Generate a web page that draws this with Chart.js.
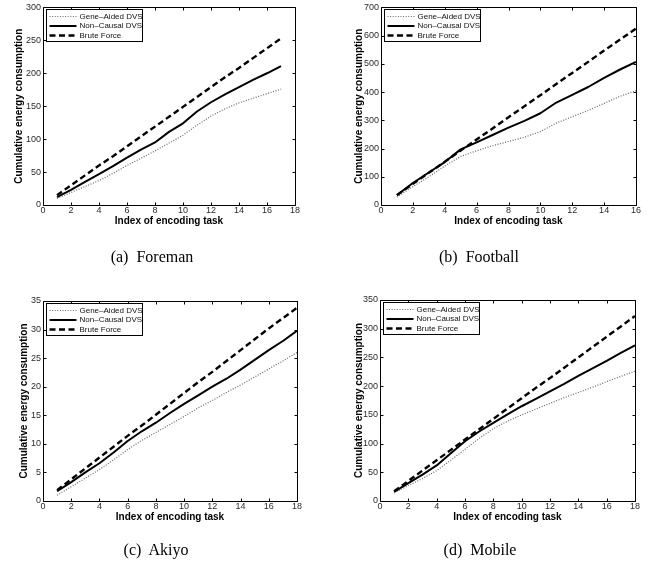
<!DOCTYPE html>
<html><head><meta charset="utf-8">
<script src="https://cdn.jsdelivr.net/npm/chart.js@4.4.1/dist/chart.umd.min.js"></script>
<style>
html,body{margin:0;padding:0;background:#fff;}
#wrap{position:relative;width:656px;height:572px;overflow:hidden;background:#fff;}
canvas{position:absolute;left:0;top:0;}
.cap{position:absolute;font-family:"Liberation Serif","DejaVu Serif",serif;font-size:16px;color:#000;white-space:pre;transform:translate(-50%,-50%);}
</style></head><body>
<div id="wrap">
<canvas id="ca" width="656" height="572"></canvas>
<canvas id="cb" width="656" height="572"></canvas>
<canvas id="cc" width="656" height="572"></canvas>
<canvas id="cd" width="656" height="572"></canvas>
<div class="cap" style="left:152px;top:257px">(a)  Foreman</div>
<div class="cap" style="left:479px;top:257px">(b)  Football</div>
<div class="cap" style="left:156px;top:550px">(c)  Akiyo</div>
<div class="cap" style="left:480px;top:550px">(d)  Mobile</div>
</div>
<script>
// ---- data ----
const seriesLabels = ["Gene\u2013Aided DVS", "Non\u2013Causal DVS", "Brute Force"];
const xTitle = "Index of encoding task";
const yTitle = "Cumulative energy consumption";

const foremanTasks = [1,2,3,4,5,6,7,8,9,10,11,12,13,14,15,16,17];
const foremanGene  = [10,19,28,37,48,60,71,82,94,106,121,135,146,155,162,169,176];
const foremanNonC  = [12,23,35,47,59,72,84,95,111,124,142,156,168,179,190,200,211];
const foremanBrute = [15,30,45,60,74,89,104,119,134,149,164,179,194,208,223,238,253];

const footballTasks = [1,2,3,4,5,6,7,8,9,10,11,12,13,14,15,16];
const footballGene  = [28,65,100,138,172,192,210,225,240,260,290,313,335,360,385,405];
const footballNonC  = [35,78,115,152,197,222,248,274,298,325,363,390,418,450,480,507];
const footballBrute = [35,75,114,153,193,232,271,311,350,389,429,468,507,547,586,625];

const akiyoTasks = [1,2,3,4,5,6,7,8,9,10,11,12,13,14,15,16,17,18];
const akiyoGene  = [1.0,2.5,4.0,5.5,7.2,9.0,10.6,12.0,13.4,14.8,16.3,17.6,19.0,20.3,21.7,23.1,24.5,26.0];
const akiyoNonC  = [1.7,3.3,5.0,6.6,8.5,10.5,12.2,13.7,15.4,17.0,18.5,20.0,21.4,23.0,24.7,26.4,28.0,29.8];
const akiyoBrute = [1.9,3.8,5.7,7.6,9.5,11.4,13.2,15.1,17.0,18.9,20.8,22.6,24.5,26.4,28.3,30.2,32.0,33.8];

const mobileTasks = [1,2,3,4,5,6,7,8,9,10,11,12,13,14,15,16,17,18];
const mobileGene  = [14,27,39,53,71,90,109,126,139,150,160,170,180,189,198,208,217,226];
const mobileNonC  = [16,31,46,62,83,104,121,136,151,165,178,191,204,218,231,244,258,271];
const mobileBrute = [17,35,53,71,89,107,125,143,161,179,197,214,232,250,268,286,304,322];

const xTicksA = {max:18, step:2};
const xTicksB = {max:16, step:2};
const yTicksA = {max:300, step:50};
const yTicksB = {max:700, step:100};
const yTicksC = {max:35, step:5};
const yTicksD = {max:350, step:50};

// ---- styling ----
const SANS = '"Liberation Sans", Arial, Helvetica, sans-serif';
const styles = [
  {borderColor:'#666', borderWidth:1.2, borderDash:[1,1.6]},
  {borderColor:'#000', borderWidth:2, borderDash:[]},
  {borderColor:'#000', borderWidth:2.4, borderDash:[6,3.5]}
];

function pts(xs, ys){ return xs.map((x,i)=>({x:x, y:ys[i]})); }

const framePlugin = {
  id:'frame',
  afterDatasetsDraw(chart){
    const ctx = chart.ctx, a = chart.chartArea;
    const xs = chart.scales.x, ys = chart.scales.y;
    ctx.save();
    ctx.strokeStyle = '#000'; ctx.lineWidth = 1; ctx.setLineDash([]);
    ctx.beginPath();
    const L = Math.round(a.left)+0.5, R = Math.round(a.right)+0.5, T = Math.round(a.top)+0.5, B = Math.round(a.bottom)+0.5;
    ctx.rect(L, T, R-L, B-T);
    const tl = 3;
    xs.ticks.forEach(t=>{
      const p = Math.round(xs.getPixelForValue(t.value))+0.5;
      ctx.moveTo(p,B); ctx.lineTo(p,B-tl);
      ctx.moveTo(p,T); ctx.lineTo(p,T+tl);
    });
    ys.ticks.forEach(t=>{
      const p = Math.round(ys.getPixelForValue(t.value))+0.5;
      ctx.moveTo(L,p); ctx.lineTo(L+tl,p);
      ctx.moveTo(R,p); ctx.lineTo(R-tl,p);
    });
    ctx.stroke();
    // legend box
    const bx = Math.round(a.left+3)+0.5, by = Math.round(a.top+2)+0.5, bw = 96, bh = 32;
    ctx.fillStyle = '#fff';
    ctx.fillRect(bx, by, bw, bh);
    ctx.strokeRect(bx, by, bw, bh);
    ctx.font = '8px ' + SANS;
    ctx.textBaseline = 'middle';
    ctx.textAlign = 'left';
    chart.data.datasets.forEach((ds,i)=>{
      const y = by + 7 + i*9.5;
      ctx.save();
      ctx.strokeStyle = ds.borderColor; ctx.lineWidth = ds.borderWidth;
      ctx.setLineDash(ds.borderDash || []);
      ctx.beginPath(); ctx.moveTo(bx+3, y); ctx.lineTo(bx+30, y); ctx.stroke();
      ctx.restore();
      ctx.fillStyle = '#111';
      ctx.fillText(ds.label, bx+33, y);
    });
    ctx.restore();
  }
};

function makeChart(id, rect, tasks, gene, nonc, brute, xt, yt, yAxisW){
  const H = 24;
  const cfg = {
    type:'line',
    data:{ datasets:[gene, nonc, brute].map((ys,i)=>Object.assign({
      label: seriesLabels[i], data: pts(tasks, ys), pointRadius:0, fill:false, tension:0,
      borderCapStyle:'butt', borderJoinStyle:'round'
    }, styles[i])) },
    options:{
      responsive:false, animation:false, devicePixelRatio:1,
      layout:{ padding:{ left: rect.l - yAxisW, top: rect.t, right: 656 - rect.r, bottom: 572 - rect.b - H } },
      plugins:{ legend:{display:false}, tooltip:{enabled:false} },
      scales:{
        x:{ type:'linear', min:0, max:xt.max,
            ticks:{ stepSize:xt.step, font:{family:SANS, size:9}, color:'#2a2a2a', padding:0.5, maxRotation:0, autoSkip:false },
            grid:{ display:false, drawTicks:false }, border:{display:false},
            title:{ display:true, text:xTitle, color:'#000', font:{family:SANS, size:10, weight:'bold'}, padding:{top:0, bottom:2} },
            afterFit(s){ s.height = H; } },
        y:{ type:'linear', min:0, max:yt.max,
            ticks:{ stepSize:yt.step, font:{family:SANS, size:9}, color:'#2a2a2a', padding:2 },
            grid:{ display:false, drawTicks:false }, border:{display:false},
            title:{ display:true, text:yTitle, color:'#000', font:{family:SANS, size:10, weight:'bold'}, padding:{top:0, bottom:0} },
            afterFit(s){ s.width = yAxisW; } }
      }
    },
    plugins:[framePlugin]
  };
  return new Chart(document.getElementById(id), cfg);
}

makeChart('ca', {l:43, t:5, r:295, b:205}, foremanTasks, foremanGene, foremanNonC, foremanBrute, xTicksA, yTicksA, 29.5);
makeChart('cb', {l:381, t:5, r:636, b:205}, footballTasks, footballGene, footballNonC, footballBrute, xTicksB, yTicksB, 28);
makeChart('cc', {l:43, t:301, r:297, b:501}, akiyoTasks, akiyoGene, akiyoNonC, akiyoBrute, xTicksA, yTicksC, 25);
makeChart('cd', {l:380, t:300, r:635, b:501}, mobileTasks, mobileGene, mobileNonC, mobileBrute, xTicksA, yTicksD, 27);
</script>
</body></html>
